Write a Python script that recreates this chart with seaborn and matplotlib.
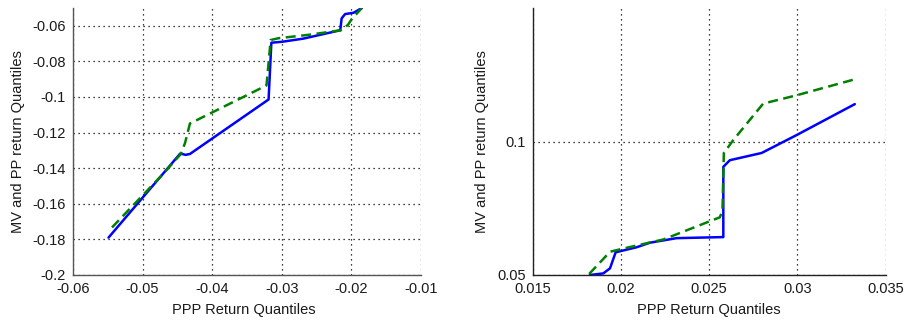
import matplotlib
matplotlib.use("Agg")
import matplotlib.pyplot as plt
import numpy as np
import pandas as pd
import seaborn as sns

# Left panel: lower-tail quantiles
left_ppp_mv = [-0.0549, -0.0446, -0.0438, -0.0432, -0.0319, -0.0315, -0.0300,
               -0.0269, -0.0216, -0.0214, -0.0209, -0.0197, -0.0185]
left_mv = [-0.1790, -0.1318, -0.1325, -0.1320, -0.1014, -0.0695, -0.0690,
           -0.0672, -0.0625, -0.0558, -0.0534, -0.0527, -0.0500]
left_ppp_pp = [-0.0544, -0.0470, -0.0445, -0.0439, -0.0432, -0.0322, -0.0316,
               -0.0305, -0.0260, -0.0215, -0.0205, -0.0200, -0.0185]
left_pp = [-0.1733, -0.1430, -0.1320, -0.1258, -0.1149, -0.0935, -0.0680,
           -0.0670, -0.0650, -0.0625, -0.0595, -0.0565, -0.0500]

# Right panel: upper-tail quantiles
right_ppp_mv = [0.01824, 0.0190, 0.01938, 0.0197, 0.02089, 0.02164, 0.02315,
                0.0258, 0.0258, 0.02617, 0.02797, 0.02995, 0.03325]
right_mv = [0.0500, 0.0506, 0.0525, 0.0585, 0.0604, 0.0621, 0.0638,
            0.0642, 0.0905, 0.0930, 0.0957, 0.1024, 0.1140]
right_ppp_pp = [0.0182, 0.01938, 0.02013, 0.0224, 0.0256, 0.02575, 0.02583,
                0.02636, 0.02806, 0.02995, 0.03325]
right_pp = [0.0504, 0.0587, 0.0599, 0.0633, 0.0716, 0.0740, 0.0957,
            0.1005, 0.1142, 0.1173, 0.1233]

left_xticks = [-0.06, -0.05, -0.04, -0.03, -0.02, -0.01]
left_yticks = [-0.2, -0.18, -0.16, -0.14, -0.12, -0.1, -0.08, -0.06]
left_yticklabels = ["-0.2", "-0.18", "-0.16", "-0.14", "-0.12", "-0.1", "-0.08", "-0.06"]
right_xticks = [0.015, 0.02, 0.025, 0.03, 0.035]
right_yticks = [0.05, 0.1]

sns.set_style("white")
plt.rcParams["font.family"] = ["Liberation Sans", "DejaVu Sans"]

fig = plt.figure(figsize=(9.06, 3.21), dpi=100)
ax_l = fig.add_axes([73 / 906, 1 - 275 / 321, 348 / 906, 267 / 321])
ax_r = fig.add_axes([532.7 / 906, 1 - 275 / 321, 353 / 906, 267 / 321])

BLUE = "#0000ff"
GREEN = "#008000"
TXT = "#1a1a1a"
FS = 10.5


def draw(ax, xa, ya, xb, yb):
    dfa = pd.DataFrame({"x": xa, "y": ya})
    dfb = pd.DataFrame({"x": xb, "y": yb})
    sns.lineplot(data=dfa, x="x", y="y", ax=ax, sort=False, estimator=None,
                 color=BLUE, linewidth=1.8, zorder=3)
    sns.lineplot(data=dfb, x="x", y="y", ax=ax, sort=False, estimator=None,
                 color=GREEN, linewidth=1.8, zorder=4, dashes=False)
    ax.lines[-1].set_dashes((4, 2.2))


def style(ax, spine_color):
    ax.grid(True, color="black", linestyle=(0, (1, 3)), linewidth=0.9)
    ax.set_axisbelow(True)
    for s in ("top", "right"):
        ax.spines[s].set_visible(False)
    for s in ("left", "bottom"):
        ax.spines[s].set_color(spine_color)
        ax.spines[s].set_linewidth(1.0)
    ax.tick_params(length=0, labelsize=FS, labelcolor=TXT, pad=5)
    ax.set_xlabel("PPP Return Quantiles", fontsize=FS, color=TXT)
    ax.set_ylabel("MV and PP return Quantiles", fontsize=FS, color=TXT)


draw(ax_l, left_ppp_mv, left_mv, left_ppp_pp, left_pp)
ax_l.set_xlim(-0.06, -0.01)
ax_l.set_ylim(-0.2, -0.05)
ax_l.set_xticks(left_xticks)
ax_l.set_xticklabels([f"{v:g}" for v in left_xticks])
ax_l.set_yticks(left_yticks)
ax_l.set_yticklabels(left_yticklabels)
style(ax_l, "#555555")
ax_l.yaxis.set_label_coords(-0.138, 0.5)
ax_l.xaxis.set_label_coords(0.49, -0.103)

draw(ax_r, right_ppp_mv, right_mv, right_ppp_pp, right_pp)
ax_r.set_xlim(0.015, 0.035)
ax_r.set_ylim(0.05, 0.15)
ax_r.set_xticks(right_xticks)
ax_r.set_xticklabels([f"{v:g}" for v in right_xticks])
ax_r.set_yticks(right_yticks)
ax_r.set_yticklabels([f"{v:g}" for v in right_yticks])
style(ax_r, "#222222")
ax_r.yaxis.set_label_coords(-0.124, 0.5)
ax_r.xaxis.set_label_coords(0.5, -0.103)

fig.savefig("out.png", dpi=100)
